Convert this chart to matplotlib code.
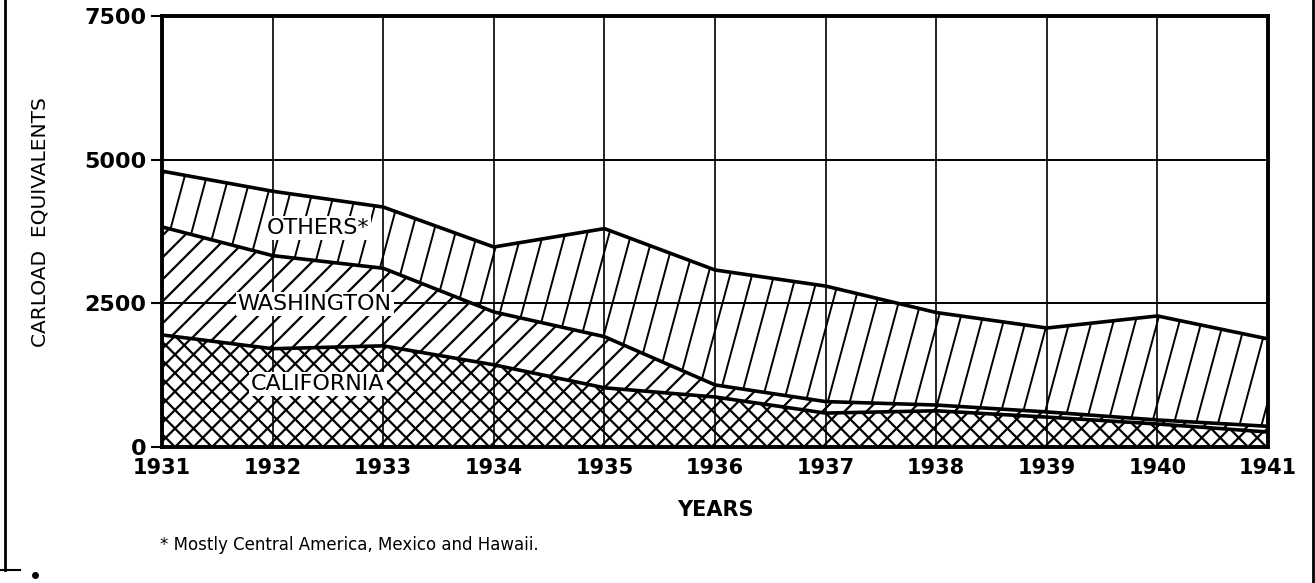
import numpy as np
import matplotlib
matplotlib.use('Agg')
import matplotlib.pyplot as plt
from matplotlib.lines import Line2D

# values (carload equivalents per region)
years = [1931, 1932, 1933, 1934, 1935, 1936, 1937, 1938, 1939, 1940, 1941]
california = [1950, 1710, 1760, 1430, 1030, 870, 590, 630, 520, 400, 260]
washington = [1880, 1620, 1350, 920, 890, 210, 200, 100, 90, 70, 100]
others = [970, 1120, 1065, 1130, 1880, 2000, 2010, 1610, 1460, 1810, 1520]
y_ticks = [0, 2500, 5000, 7500]

plt.rcParams['font.family'] = 'DejaVu Sans'

x = np.array(years)
cal = np.array(california)
wash_top = cal + np.array(washington)
total = wash_top + np.array(others)

fig = plt.figure(figsize=(13.15, 5.83), dpi=100)
ax = fig.add_axes([0.1232, 0.2333, 0.8411, 0.7393])
ax.set_xlim(1931, 1941)
ax.set_ylim(0, 7500)

W = 0.8411 * 1315  # axes size in px, used for the hatching
H = 0.7393 * 583


def hatch_band(lower, upper, step, slope, lw=1.6):
    # hand-drawn style hatching: straight lines clipped to the band
    # step = horizontal gap in px, slope = dx/dy in px
    band = ax.fill_between(x, lower, upper, facecolor='none', edgecolor='none',
                           linewidth=0, zorder=2)
    clip = (band.get_paths()[0], ax.transData)
    shift = slope * H
    for x0 in np.arange(-abs(shift) - step, W + abs(shift) + step, step):
        ln, = ax.plot([x0 / W, (x0 + shift) / W], [0, 1], transform=ax.transAxes,
                      color='black', lw=lw, zorder=2, solid_capstyle='butt')
        ln.set_clip_path(*clip)


# grid drawn first so the hatching sits over it
for yr in years:
    ax.axvline(yr, color='black', lw=1.2, zorder=1)
for v in y_ticks[1:3]:
    ax.axhline(v, color='black', lw=1.4, zorder=1)

# california - cross hatch
hatch_band(0, cal, 18.5, 1.0)
hatch_band(0, cal, 18.5, -1.0)
# washington - diagonal hatch
hatch_band(cal, wash_top, 22, 1.0)
# others - steep lines
hatch_band(wash_top, total, 22, 0.27, lw=1.4)

# boundary lines
ax.plot(x, cal, color='black', lw=2.6, zorder=3)
ax.plot(x, wash_top, color='black', lw=2.6, zorder=3)
ax.plot(x, total, color='black', lw=2.6, zorder=3)

for s in ax.spines.values():
    s.set_linewidth(2.8)
    s.set_zorder(4)

ax.set_xticks(years)
ax.set_xticklabels([str(y) for y in years], fontsize=15, fontweight='bold')
ax.tick_params(axis='x', length=0, pad=8)
ax.set_yticks(y_ticks)
ax.set_yticklabels([str(v) for v in y_ticks], fontsize=16, fontweight='bold')
ax.tick_params(axis='y', length=8, width=1.5, pad=3)

box = dict(facecolor='white', edgecolor='none', pad=1.5)
ax.text(1932.41, 3810, 'OTHERS*', fontsize=16, ha='center', va='center',
        bbox=box, zorder=5)
ax.text(1932.38, 2488, 'WASHINGTON', fontsize=16, ha='center', va='center',
        bbox=box, zorder=5)
ax.text(1932.41, 1096, 'CALIFORNIA', fontsize=16, ha='center', va='center',
        bbox=box, zorder=5)

fig.text(715 / 1315, 1 - 510 / 583, 'YEARS', fontsize=15, fontweight='bold',
         ha='center', va='center')
fig.text(40 / 1315, 1 - 222 / 583, 'CARLOAD  EQUIVALENTS', fontsize=14.5,
         rotation=90, ha='center', va='center')
fig.text(160 / 1315, 1 - 545 / 583, '* Mostly Central America, Mexico and Hawaii.',
         fontsize=12, ha='left', va='center')

# page border bits from the scan
fig.add_artist(Line2D([5 / 1315, 5 / 1315], [1, 1 - 570 / 583], color='black', lw=2))
fig.add_artist(Line2D([0, 20 / 1315], [1 - 570 / 583, 1 - 570 / 583], color='black', lw=1.5))
fig.add_artist(Line2D([1313 / 1315, 1313 / 1315], [1, 0], color='black', lw=2))
fig.add_artist(Line2D([35 / 1315], [1 - 575 / 583], marker='o', markersize=4,
                      color='black'))

fig.savefig('out.png', dpi=100)
